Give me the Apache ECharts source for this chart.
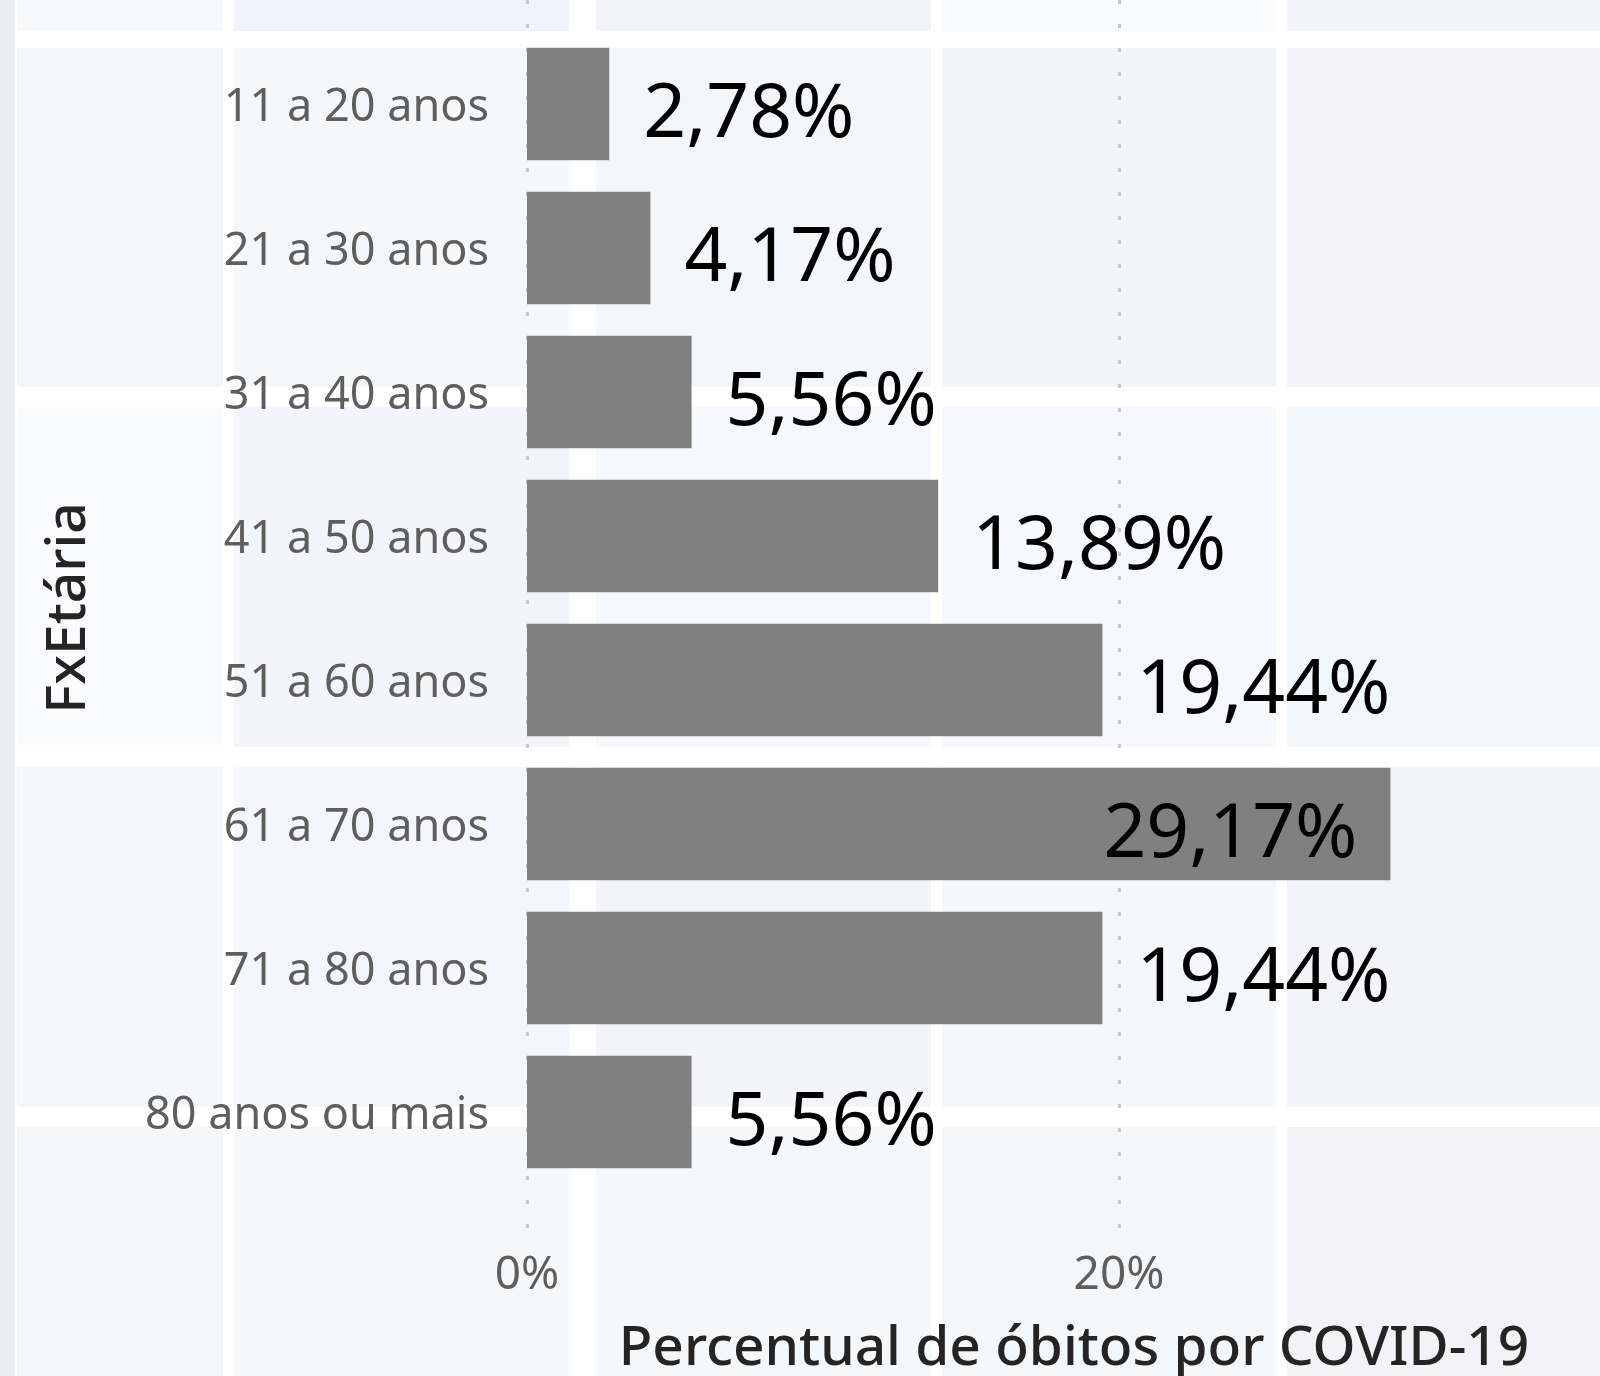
<!DOCTYPE html>
<html>
<head>
<meta charset="utf-8">
<script src="https://cdn.jsdelivr.net/npm/echarts@6/dist/echarts.min.js"></script>
<style>
  html, body { margin: 0; padding: 0; background: #ffffff; }
  #chart { width: 1600px; height: 1376px; }
</style>
</head>
<body>
<div id="chart"></div>
<script>
// age bands, top to bottom, and their share of COVID-19 deaths (%)
const categories = ['11 a 20 anos', '21 a 30 anos', '31 a 40 anos', '41 a 50 anos',
  '51 a 60 anos', '61 a 70 anos', '71 a 80 anos', '80 anos ou mais']
const values = [2.78, 4.17, 5.56, 13.89, 19.44, 29.17, 19.44, 5.56]
const axisMax = 40
const axisStep = 20
const xTitle = 'Percentual de óbitos por COVID-19'
const yTitle = 'FxEtária'

const FONT = '"Segoe UI", "Noto Sans", sans-serif'

// faint tiled backdrop (report page background), white gaps between tiles
const tileCols = [[17, 223], [234, 569], [596, 931], [942, 1276], [1287, 1600]]
const tileRows = [[0, 31], [48, 387], [407, 747], [767, 1107], [1127, 1376]]
const tileColors = [
  ['#f7f9fb', '#f0f3fb', '#f2f4f8', '#fafbfd', '#f3f5f8'],
  ['#f4f7f9', '#f5f8fa', '#f4f7f9', '#f2f6f8', '#f3f3f7'],
  ['#fafbfe', '#f2f5fa', '#f5f8fc', '#f5f8fd', '#f1f8fb'],
  ['#f4f7fb', '#f3f6fc', '#f3f5f8', '#f5f8fb', '#f3f4f8'],
  ['#f4f7f9', '#f5f8fa', '#f5f8fa', '#f4f7fa', '#f3f3f7'],
]

function pct(v) {
  return v.toFixed(2).replace('.', ',') + '%'
}

const tiles = [{
  type: 'rect', z: -20, silent: true,
  shape: { x: 0, y: 0, width: 15, height: 1376 },
  style: { fill: '#eceff2' }
}]
tileRows.forEach(function (r, ri) {
  tileCols.forEach(function (c, ci) {
    tiles.push({
      type: 'rect', z: -20, silent: true,
      shape: { x: c[0], y: r[0], width: c[1] - c[0], height: r[1] - r[0] },
      style: { fill: tileColors[ri][ci] }
    })
  })
})

// 61-70 bar is too long for an outside label, Power BI puts it inside
const barData = values.map(function (v) {
  const inside = v > 25
  return {
    value: v,
    label: inside
      ? { position: 'insideRight', distance: 33 }
      : { position: 'right', distance: 34 }
  }
})

const gridLeft = 527
const gridWidth = 1184

const chart = echarts.init(document.getElementById('chart'))
chart.setOption({
  backgroundColor: '#ffffff',
  animation: false,
  graphic: tiles.concat([{
    type: 'text', z: 10, silent: true,
    x: 1074, y: 1349,
    style: {
      text: xTitle,
      font: '500 55px ' + FONT,
      fill: '#252423',
      align: 'center',
      verticalAlign: 'middle'
    }
  }]),
  grid: [
    // gridline + tick label layer (dotted lines run above/below the bars)
    { left: gridLeft, top: 0, width: gridWidth, height: 1230, outerBoundsMode: 'none', containLabel: false },
    // bars
    { left: gridLeft, top: 32, width: gridWidth, height: 1152, outerBoundsMode: 'none', containLabel: false }
  ],
  xAxis: [{
    gridIndex: 0, type: 'value', min: 0, max: axisMax, interval: axisStep,
    axisLine: { show: false }, axisTick: { show: false },
    axisLabel: {
      margin: 23, fontSize: 46, color: '#605e5c', fontFamily: FONT,
      formatter: function (v) { return v + '%' }
    },
    splitLine: { show: true, lineStyle: { color: '#c8c8c8', width: 3, type: [4, 20] } }
  }, {
    gridIndex: 1, type: 'value', min: 0, max: axisMax, interval: axisStep, show: false
  }],
  yAxis: [{
    gridIndex: 0, type: 'value', show: false
  }, {
    gridIndex: 1, type: 'category', data: categories, inverse: true,
    axisLine: { show: false }, axisTick: { show: false },
    axisLabel: {
      margin: 38,
      formatter: function (v) { return '{c|' + v + '}' },
      rich: { c: { fontSize: 45, color: '#605e5c', fontFamily: FONT, padding: [9, 0, 0, 0] } }
    },
    name: yTitle, nameLocation: 'middle', nameGap: 430, nameRotate: 90,
    nameTextStyle: { fontSize: 55, color: '#252423', fontWeight: 500, fontFamily: FONT }
  }],
  series: [{
    type: 'bar',
    xAxisIndex: 1, yAxisIndex: 1,
    data: barData,
    barCategoryGap: '22%',
    itemStyle: { color: '#808080' },
    label: {
      show: true,
      fontSize: 75, color: '#000000', fontFamily: FONT,
      offset: [0, 12],
      formatter: function (p) { return pct(p.value) }
    }
  }]
})
</script>
</body>
</html>
